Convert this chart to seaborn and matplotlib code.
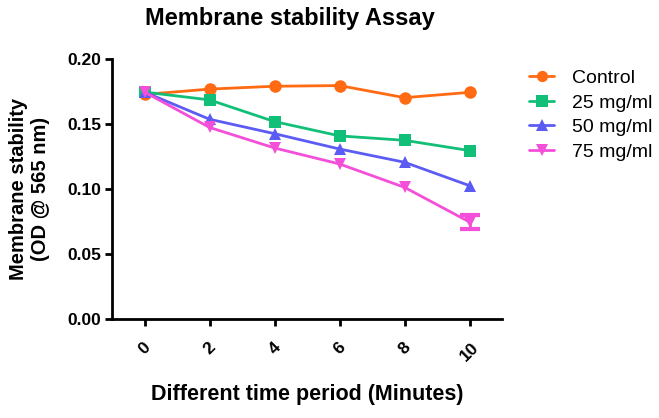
import numpy as np
import pandas as pd
import matplotlib
matplotlib.use("Agg")
import matplotlib.pyplot as plt
import seaborn as sns

sns.set_style("ticks")
plt.rcParams['font.family'] = ['Liberation Sans', 'DejaVu Sans']
plt.rcParams['text.color'] = 'black'
plt.rcParams['axes.labelcolor'] = 'black'
plt.rcParams['xtick.color'] = 'black'
plt.rcParams['ytick.color'] = 'black'
plt.rcParams['axes.edgecolor'] = 'black'

time = [0, 2, 4, 6, 8, 10]
series_names = ["Control", "25 mg/ml", "50 mg/ml", "75 mg/ml"]
control = [0.1727, 0.1768, 0.1790, 0.1795, 0.1702, 0.1743]
mg25 = [0.1745, 0.1685, 0.1518, 0.1408, 0.1374, 0.1295]
mg50 = [0.1745, 0.1536, 0.1425, 0.1307, 0.1205, 0.1025]
mg75 = [0.1745, 0.1473, 0.1315, 0.1192, 0.1012, 0.0745]
err75 = [0.0, 0.0, 0.0, 0.0, 0.0, 0.0052]
y_ticks = [0.00, 0.05, 0.10, 0.15, 0.20]

colors = ["#FF6A13", "#12BF78", "#5C5CF5", "#F44FD8"]
markers = ["o", "s", "^", "v"]

df = pd.DataFrame({
    "Time": time * 4,
    "OD": control + mg25 + mg50 + mg75,
    "Group": sum([[n] * len(time) for n in series_names], []),
})

fig = plt.figure(figsize=(6.59, 4.18), dpi=100)
ax = fig.add_axes([0.170, 0.237, 0.592, 0.622])

t_err = [t for t, e in zip(time, err75) if e > 0]
v_err = [v for v, e in zip(mg75, err75) if e > 0]
e_err = [e for e in err75 if e > 0]
ax.errorbar(t_err, v_err, yerr=e_err, fmt="none", ecolor=colors[3],
            elinewidth=2, capsize=7, capthick=3, zorder=1)

sns.lineplot(data=df, x="Time", y="OD", hue="Group", style="Group",
             hue_order=series_names, style_order=series_names,
             palette=colors, markers=dict(zip(series_names, markers)),
             dashes=False, markersize=9, markeredgewidth=0, linewidth=2,
             ax=ax, legend=True, zorder=2)

ax.set_xlim(-1, 11)
ax.set_ylim(0, 0.2)
ax.set_xticks(time)
ax.set_xticklabels([str(t) for t in time], rotation=45, fontsize=12.5,
                   fontweight="bold")
ax.set_yticks(y_ticks)
ax.set_yticklabels([f"{v:.2f}" for v in y_ticks], fontsize=12.5, fontweight="bold")
ax.tick_params(axis="both", width=2, length=5, direction="out", pad=3)
ax.tick_params(axis="x", pad=10)
for s in ["left", "bottom"]:
    ax.spines[s].set_linewidth(2)
sns.despine(ax=ax)

ax.set_xlabel("Different time period (Minutes)", fontsize=15.5, fontweight="bold",
              labelpad=14)
ax.set_ylabel("Membrane stability\n(OD @ 565 nm)", fontsize=14.5,
              fontweight="bold", labelpad=12)
fig.text(290 / 659, 1 - 18 / 418, "Membrane stability Assay", fontsize=17,
         fontweight="bold", ha="center", va="center")

leg = ax.legend(loc="upper left", bbox_to_anchor=(1.05, 0.99), frameon=False,
                fontsize=14, handlelength=1.25, handletextpad=0.95,
                labelspacing=0.36, borderaxespad=0, markerscale=0.9)
fig.savefig("out.png", dpi=100)
